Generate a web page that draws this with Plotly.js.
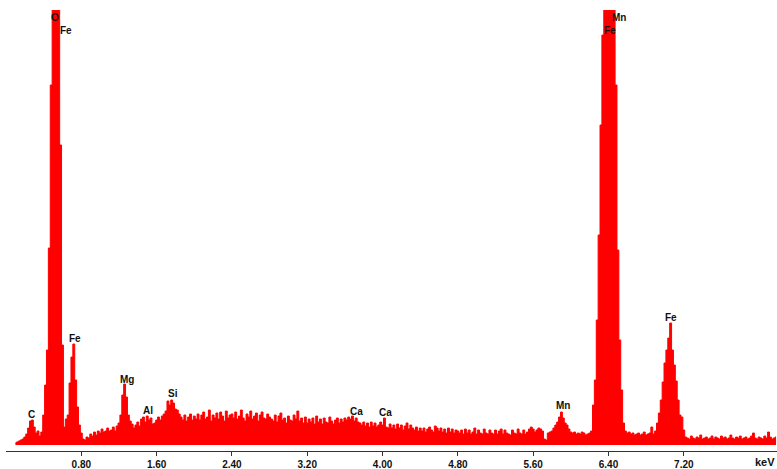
<!DOCTYPE html>
<html>
<head>
<meta charset="utf-8">
<script src="https://cdn.plot.ly/plotly-3.0.1.min.js"></script>
<style>html,body{margin:0;padding:0;background:#fff;}#chart{width:777px;height:469px;}</style>
</head>
<body>
<div id="chart"></div>
<script>
// Energy channels: first channel energy and channel width (keV)
const channelStart = 0.10;
const channelWidth = 0.02;

// Counts per channel (arbitrary units)
const counts0 = [2,3,4,5,6,8,11,17,24,25,18,12,14,9,13,30,60,95,197,360];          // 0.10-0.48
const counts1 = [900,1200,1100,700,300,100,18,26,30,62,88,101,65,38,20,12,6,5,8,7]; // 0.50-0.88
const counts2 = [11,9,13,10,14,12,16,13,14,17,14,15,18,14,19,22,30,50,61,48];      // 0.90-1.28
const counts3 = [30,24,21,17,20,23,19,26,28,23,29,25,27,21,22,25,28,25,29,31];      // 1.30-1.68
const counts4 = [34,44,40,45,42,36,35,31,28,25,30,24,28,31,25,29];                  // 1.70-2.00
const counts5 = [26,31,25,30,33,26,28,35,24,30,27,32,26,33,29,24,34,27,30,31,
                 27,33,26,29,35,27,24,31,28,34,26,29,32,24,30,33,27,26,31,28,
                 26,24,30,23,29,32,25,27,22,29,25,24,30,26,34,24,27,22,28,22,
                 26,23,27,21,29,23,26,21,27,23,22,28,24,21,25,27,22,26,23,27,
                 25,28,26,29,24,27,23,22,20,23,19,22,18,23,19,22,18,20,23,20,
                 27,18,17,21,17,20,16,21,17,20,15,19,22,16,20,17,15,18,14,17,
                 14,17,13,16,18,15,13,19,17,14,17,13,16,12,17,13,16,12,15,14,
                 12,15,11,16,12,15,11,13,17,11,15,12,11,16,12,11,15,12,11,15,
                 11,14,16,11,15,12,11,10,15,12,11,16,12,11,15,11,13,16,18];         // 2.02-5.58
const counts6 = [16,13,15,17,16,14,6,5,12,13,14,17,20,23,28,33,27,22,20,16,13,12,13,11,12,11,13,12,10,11,12,14, // 5.60-6.22
                 40,65,125,210,320,410,600,900,1000,950,800,500,360,195,105,55,22,                            // 6.24-6.56
                 14,12,13,11,12,10,11,12,10,11,13,10,11,12,18,11,14,                                          // 6.58-6.90
                 22,32,45,63,82,95,107,122,95,80,64,45,30,28,15];                                             // 6.92-7.20
const counts7 = [8,7,6,9,7,6,8,7,10,6,7,8,6,7,9,6,8,7,6,9,7,8,6,7,10,7,6,8,7,9,6,7,8,6,7,9,12,7,6,8,7,6,9,7,13,8,6,7,8]; // 7.22-8.18

const counts = [].concat(counts0, counts1, counts2, counts3, counts4, counts5, counts6, counts7);

// Axis ticks
const tickVals = [0.8, 1.6, 2.4, 3.2, 4.0, 4.8, 5.6, 6.4, 7.2];
const tickText = ["0.80","1.60","2.40","3.20","4.00","4.80","5.60","6.40","7.20"];

// Peak labels
const peakNames = ["O","Fe","C","Fe","Mg","Al","Si","Ca","Ca","Mn","Mn","Fe","Fe"];
const peakKeV   = [0.52,0.637,0.276,0.728,1.28,1.508,1.769,3.718,4.036,5.917,6.512,6.411,7.059];
const peakLevel = [428,415,31,107,66,35,52,34,33,40,427.5,415,128];

const labelFont = {family: "Liberation Sans, Arial, sans-serif", size: 10, color: "#111", weight: "bold"};

const annotations = peakNames.map((t, i) => ({
  text: t, x: peakKeV[i], y: peakLevel[i], xref: "x", yref: "y",
  showarrow: false, xanchor: "center", yanchor: "middle", font: labelFont
}));
annotations.push({text: "keV", x: 8.06, y: -0.024, xref: "x", yref: "paper", showarrow: false,
  xanchor: "center", yanchor: "middle", font: {family: "Liberation Sans, Arial, sans-serif", size: 11, color: "#111", weight: "bold"}});

const trace = {
  type: "scatter", mode: "lines",
  x0: channelStart, dx: channelWidth, y: counts,
  line: {color: "#ff0000", width: 1, shape: "hvh"},
  fill: "tozeroy", fillcolor: "#ff0000",
  hoverinfo: "skip"
};

const layout = {
  width: 777, height: 469,
  margin: {l: 6, r: 0, t: 10, b: 18, pad: 0},
  paper_bgcolor: "#ffffff", plot_bgcolor: "#ffffff",
  showlegend: false,
  xaxis: {
    range: [0, 8.19], showgrid: false, zeroline: false,
    showline: true, linecolor: "#333", linewidth: 1,
    ticks: "outside", ticklen: 4, tickcolor: "#333", tickwidth: 1,
    tickvals: tickVals, ticktext: tickText,
    tickfont: {family: "Liberation Sans, Arial, sans-serif", size: 10, color: "#111", weight: "bold"},
    fixedrange: true
  },
  yaxis: {range: [-6, 435], visible: false, fixedrange: true},
  annotations: annotations
};

Plotly.newPlot("chart", [trace], layout, {staticPlot: true, displayModeBar: false});
</script>
</body>
</html>
